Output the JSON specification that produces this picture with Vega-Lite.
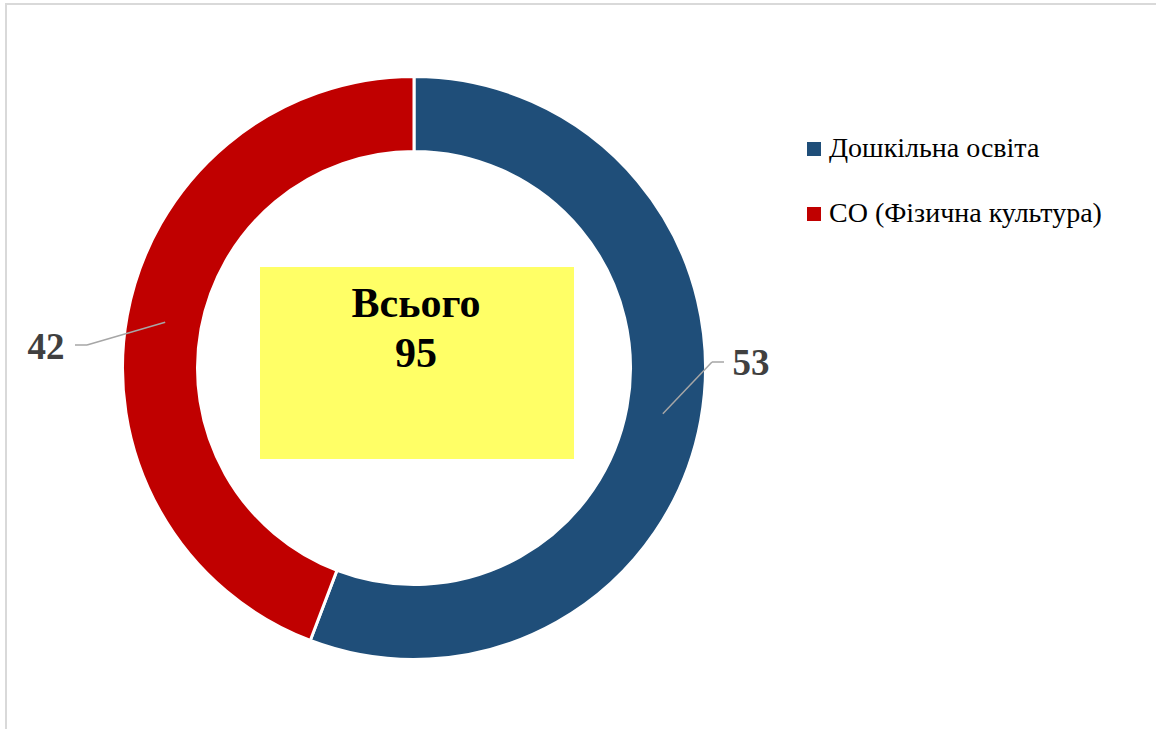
{
  "$schema": "https://vega.github.io/schema/vega-lite/v6.json",
  "width": 1150,
  "height": 725,
  "autosize": "none",
  "padding": {"left": 6, "top": 4, "right": 0, "bottom": 0},
  "background": "white",
  "config": {
    "font": "Liberation Serif",
    "view": {"stroke": "#d9d9d9", "strokeWidth": 2, "strokeDash": [1150, 1875, 726, 1]},
    "legend": {"labelFont": "Liberation Serif"}
  },
  "data": {
    "values": [
      {"category": "Дошкільна освіта", "value": 53, "order": 1},
      {"category": "СО (Фізична культура)", "value": 42, "order": 2}
    ]
  },
  "layer": [
    {
      "mark": {"type": "arc", "innerRadius": 216.5, "outerRadius": 291.5, "stroke": "white", "strokeWidth": 3, "x": 408, "y": 364},
      "encoding": {
        "theta": {"field": "value", "type": "quantitative", "stack": true},
        "order": {"field": "order", "type": "quantitative"},
        "color": {
          "field": "category",
          "type": "nominal",
          "scale": {"domain": ["Дошкільна освіта", "СО (Фізична культура)"], "range": ["#1F4E79", "#C00000"]},
          "legend": {
            "title": null,
            "orient": "none",
            "legendX": 794,
            "legendY": 131,
            "symbolType": "square",
            "symbolSize": 196,
            "symbolStrokeWidth": 0,
            "labelFont": "Liberation Serif",
            "labelFontSize": 28,
            "labelLimit": 500,
            "labelColor": "#000000",
            "labelOffset": 1,
            "rowPadding": 37,
            "padding": 0
          }
        }
      }
    },
    {
      "transform": [
        {"aggregate": [{"op": "sum", "field": "value", "as": "total"}]},
        {"calculate": "['Всього', '' + datum.total]", "as": "lbl"}
      ],
      "layer": [
        {
          "mark": {"type": "rect", "x": 254, "x2": 568, "y": 263, "y2": 455, "fill": "#FFFF66"},
          "encoding": {}
        },
        {
          "mark": {"type": "text", "x": 410, "y": 313, "align": "center", "baseline": "alphabetic", "font": "Liberation Serif", "fontWeight": "bold", "fontSize": 42, "lineHeight": 50, "color": "#000000"},
          "encoding": {"text": {"field": "lbl"}}
        }
      ]
    },
    {
      "transform": [
        {"window": [{"op": "sum", "field": "value", "as": "cum"}], "sort": [{"field": "order"}], "frame": [null, 0]},
        {"joinaggregate": [{"op": "sum", "field": "value", "as": "total"}]},
        {"calculate": "2*PI*(datum.cum - datum.value/2)/datum.total", "as": "mid"},
        {"calculate": "408 + 253*sin(datum.mid)", "as": "sx"},
        {"calculate": "364 - 253*cos(datum.mid)", "as": "sy"},
        {"calculate": "datum.order == 1 ? 706 : 81", "as": "ex"},
        {"calculate": "datum.order == 1 ? 358 : 341", "as": "ey"},
        {"calculate": "datum.order == 1 ? 718 : 69", "as": "hx"},
        {"calculate": "datum.order == 1 ? 745 : 40", "as": "tx"},
        {"calculate": "datum.order == 1 ? 371 : 355", "as": "ty"}
      ],
      "layer": [
        {
          "mark": {"type": "rule", "color": "#a6a6a6", "strokeWidth": 1.5},
          "encoding": {
            "x": {"field": "sx", "type": "quantitative", "scale": null, "axis": null},
            "y": {"field": "sy", "type": "quantitative", "scale": null, "axis": null},
            "x2": {"field": "ex"},
            "y2": {"field": "ey"}
          }
        },
        {
          "mark": {"type": "rule", "color": "#a6a6a6", "strokeWidth": 1.5},
          "encoding": {
            "x": {"field": "ex", "type": "quantitative", "scale": null, "axis": null},
            "y": {"field": "ey", "type": "quantitative", "scale": null, "axis": null},
            "x2": {"field": "hx"},
            "y2": {"field": "ey"}
          }
        },
        {
          "mark": {"type": "text", "align": "center", "baseline": "alphabetic", "font": "Liberation Serif", "fontWeight": "bold", "fontSize": 37, "color": "#404040"},
          "encoding": {
            "x": {"field": "tx", "type": "quantitative", "scale": null, "axis": null},
            "y": {"field": "ty", "type": "quantitative", "scale": null, "axis": null},
            "text": {"field": "value", "type": "quantitative"}
          }
        }
      ]
    }
  ]
}
